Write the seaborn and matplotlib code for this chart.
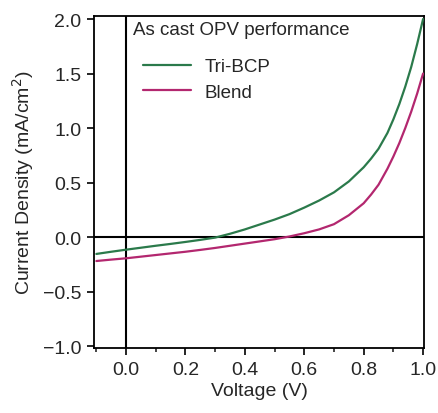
import numpy as np
import pandas as pd
import matplotlib
matplotlib.use("Agg")
import matplotlib.pyplot as plt
import seaborn as sns
from matplotlib.ticker import MultipleLocator
from matplotlib.lines import Line2D

voltage_tri = [-0.1, -0.05, 0.0, 0.05, 0.1, 0.15, 0.2, 0.25, 0.3, 0.35, 0.4, 0.45,
               0.5, 0.55, 0.6, 0.65, 0.7, 0.75, 0.8, 0.825, 0.85, 0.88, 0.9, 0.92,
               0.94, 0.96, 0.98, 1.0]
current_tri = [-0.155, -0.135, -0.116, -0.098, -0.08, -0.063, -0.045, -0.026, -0.005,
               0.03, 0.07, 0.115, 0.16, 0.21, 0.27, 0.335, 0.41, 0.51, 0.64, 0.72,
               0.81, 0.955, 1.08, 1.22, 1.38, 1.56, 1.77, 2.0]
voltage_blend = [-0.1, -0.05, 0.0, 0.05, 0.1, 0.15, 0.2, 0.25, 0.3, 0.35, 0.4, 0.45,
                 0.5, 0.55, 0.6, 0.65, 0.7, 0.75, 0.8, 0.825, 0.85, 0.88, 0.9, 0.92,
                 0.94, 0.96, 0.98, 1.0]
current_blend = [-0.22, -0.207, -0.195, -0.18, -0.165, -0.15, -0.135, -0.118, -0.10,
                 -0.08, -0.06, -0.04, -0.02, 0.005, 0.035, 0.07, 0.118, 0.20, 0.31,
                 0.39, 0.48, 0.627, 0.739, 0.862, 1.0, 1.15, 1.316, 1.5]
series = ["Tri-BCP", "Blend"]
colors = {"Tri-BCP": "#2b7a4b", "Blend": "#b3276f"}

df = pd.concat([
    pd.DataFrame({"V": voltage_tri, "J": current_tri, "s": series[0]}),
    pd.DataFrame({"V": voltage_blend, "J": current_blend, "s": series[1]}),
])

sns.set_style("white")
plt.rcParams["font.family"] = ["Liberation Sans", "DejaVu Sans"]

fig = plt.figure(figsize=(4.38, 4.14), dpi=100)
ax = fig.add_axes([0.2146, 0.157, 0.7534, 0.802])

ax.axhline(0, color="black", lw=1.5, zorder=1)
ax.axvline(0, color="black", lw=1.5, zorder=1)

sns.lineplot(data=df, x="V", y="J", hue="s", palette=colors, ax=ax, lw=1.6,
             sort=False, legend=False, zorder=3)

ax.set_xlim(-0.108, 1.003)
ax.set_ylim(-1.018, 2.028)
ax.xaxis.set_minor_locator(MultipleLocator(0.1))
ax.set_xticks(np.arange(0, 1.01, 0.2))
ax.set_yticks(np.arange(-1.0, 2.01, 0.5))
ax.tick_params(axis="both", which="major", direction="out", length=5, width=1.2,
               labelsize=14, color="black", bottom=True, left=True, pad=4)
ax.tick_params(axis="x", which="minor", direction="out", length=3, width=1.2,
               bottom=True)
for sp in ax.spines.values():
    sp.set_color("black")
    sp.set_linewidth(1.3)

ax.set_xlabel("Voltage (V)", fontsize=14, labelpad=3)
ax.set_ylabel("Current Density (mA/cm$^2$)", fontsize=14, labelpad=5)

ax.text(0.022, 1.985, "As cast OPV performance", fontsize=13.5, ha="left", va="top")

handles = [Line2D([], [], color=colors[s], lw=1.6) for s in series]
ax.legend(handles, series, loc="upper left", bbox_to_anchor=(0.125, 0.895),
          frameon=False, fontsize=13.5, handlelength=2.6, handletextpad=0.7,
          labelspacing=0.45, borderaxespad=0)

fig.savefig("out.png", dpi=100)
